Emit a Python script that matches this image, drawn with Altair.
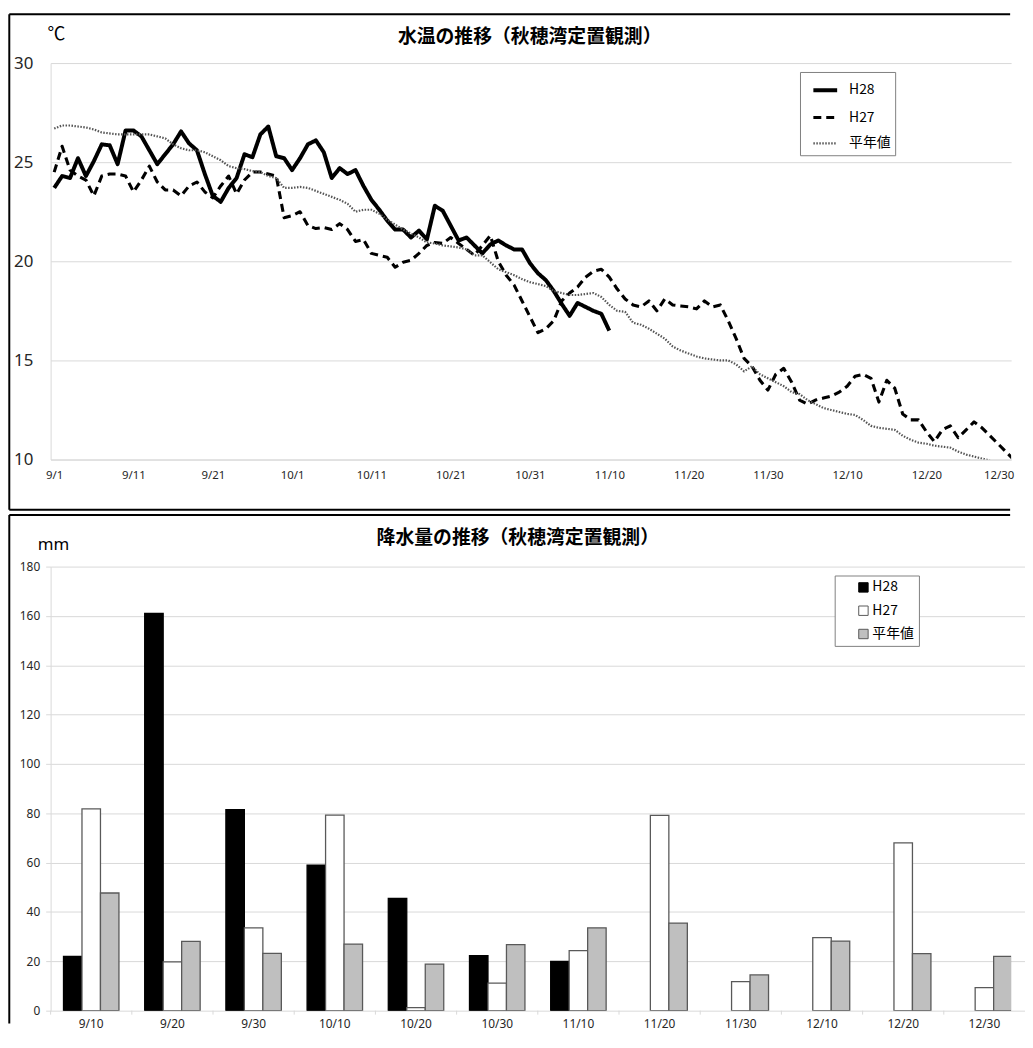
import altair as alt
import pandas as pd

# ---------------- data: water temperature (daily, starting 9/1) ----------------
h28_temp = [23.7, 24.3, 24.2, 25.2, 24.3, 25.05, 25.9, 25.85, 24.9, 26.6,
            26.6, 26.3, 25.6, 24.9, 25.4, 25.9, 26.55, 25.95, 25.6, 24.4,
            23.3, 23.0, 23.7, 24.2, 25.4, 25.25, 26.4, 26.8, 25.3, 25.2,
            24.6, 25.2, 25.9, 26.1, 25.5, 24.2, 24.7, 24.4, 24.6, 23.8,
            23.1, 22.6, 22.05, 21.6, 21.6, 21.2, 21.55, 21.1, 22.8, 22.55,
            21.8, 21.05, 21.2, 20.8, 20.4, 20.85, 21.05, 20.8, 20.6, 20.6,
            19.9, 19.4, 19.05, 18.5, 17.85, 17.25, 17.9, 17.7, 17.5, 17.35,
            16.5]
h27_temp = [24.5, 25.8, 24.6, 24.3, 24.1, 23.3, 24.3, 24.4, 24.4, 24.3,
            23.5, 24.1, 24.8, 24.0, 23.6, 23.6, 23.3, 23.8, 24.0, 23.5,
            23.2, 23.8, 24.3, 23.4, 24.1, 24.5, 24.5, 24.4, 24.3, 22.2,
            22.3, 22.5, 21.8, 21.65, 21.7, 21.6, 21.9, 21.6, 21.0, 21.1,
            20.4, 20.3, 20.2, 19.7, 19.95, 20.05, 20.4, 20.8, 20.95, 20.9,
            21.2, 20.9, 20.6, 20.3, 20.8, 21.3, 20.0, 19.3, 18.8, 18.0,
            17.2, 16.4, 16.6, 17.0, 18.0, 18.4, 18.7, 19.2, 19.5, 19.6,
            19.2, 18.6, 18.1, 17.8, 17.7, 18.0, 17.5, 18.1, 17.8, 17.75,
            17.7, 17.6, 18.0, 17.7, 17.8, 17.0, 16.1, 15.1, 14.7, 14.0,
            13.5, 14.3, 14.6, 13.9, 13.0, 12.8, 13.0, 13.1, 13.2, 13.4,
            13.7, 14.2, 14.3, 14.1, 12.9, 14.0, 13.6, 12.3, 12.0, 12.0,
            11.4, 10.9, 11.5, 11.7, 11.1, 11.5, 11.9, 11.6, 11.2, 10.8,
            10.4, 10.0]
avg_temp = [26.7, 26.85, 26.85, 26.8, 26.75, 26.65, 26.5, 26.45, 26.4, 26.4,
            26.4, 26.4, 26.4, 26.3, 26.2, 25.9, 25.7, 25.6, 25.6, 25.5,
            25.3, 25.1, 24.8, 24.7, 24.65, 24.55, 24.5, 24.3, 24.2, 23.7,
            23.7, 23.75, 23.7, 23.55, 23.4, 23.25, 23.1, 22.9, 22.5, 22.6,
            22.6, 22.4, 22.1, 21.85, 21.6, 21.4, 21.2, 20.95, 20.9, 20.8,
            20.75, 20.7, 20.6, 20.3, 20.3, 19.95, 19.6, 19.45, 19.3, 19.1,
            18.95, 18.85, 18.75, 18.5, 18.4, 18.3, 18.3, 18.35, 18.4, 18.2,
            17.8, 17.5, 17.45, 16.9, 16.8, 16.6, 16.35, 16.1, 15.7, 15.5,
            15.35, 15.2, 15.1, 15.05, 15.0, 15.0, 14.8, 14.45, 14.7, 14.3,
            14.1, 13.9, 13.7, 13.4, 13.3, 13.0, 12.8, 12.6, 12.5, 12.4,
            12.3, 12.25, 12.0, 11.7, 11.6, 11.55, 11.5, 11.2, 11.0, 10.85,
            10.8, 10.7, 10.65, 10.6, 10.4, 10.25, 10.15, 10.05, 9.95]
temp_tick_labels = ["9/1", "9/11", "9/21", "10/1", "10/11", "10/21", "10/31",
                    "11/10", "11/20", "11/30", "12/10", "12/20", "12/30"]
series_names = ["H28", "H27", "平年値"]

# ---------------- data: precipitation (10-day totals) ----------------
rain_periods = ["9/10", "9/20", "9/30", "10/10", "10/20", "10/30",
                "11/10", "11/20", "11/30", "12/10", "12/20", "12/30"]
rain_h28 = [22.0, 161.0, 81.5, 59.0, 45.5, 22.3, 20.0, None, None, None, None, None]
rain_h27 = [81.8, 19.8, 33.6, 79.3, 1.2, 11.2, 24.3, 79.2, 11.8, 29.6, 68.0, 9.3]
rain_avg = [47.7, 28.1, 23.2, 27.0, 18.9, 26.8, 33.6, 35.5, 14.5, 28.2, 23.1, 22.0]

JP = "Noto Sans CJK JP"
NUM = "Noto Sans"
GRID = "#d9d9d9"

temp_rows = []
for name, vals in zip(series_names, [h28_temp, h27_temp, avg_temp]):
    for i, v in enumerate(vals):
        temp_rows.append({"day": i, "temp": v, "series": name})
temp_df = pd.DataFrame(temp_rows)

rain_rows = []
for name, vals in zip(series_names, [rain_h28, rain_h27, rain_avg]):
    for p, v in zip(rain_periods, vals):
        if v is not None:
            rain_rows.append({"period": p, "rain": v, "kind": name})
rain_df = pd.DataFrame(rain_rows)
period_df = pd.DataFrame({"period": rain_periods})

one = pd.DataFrame({"k": [0]})


def rule(x, x2, y, y2):
    return alt.Chart(one).mark_rule(color="black", strokeWidth=2).encode(
        x=alt.value(x), x2=alt.value(x2), y=alt.value(y), y2=alt.value(y2))


def label(text, x, y, size, bold=False, font=JP):
    return alt.Chart(one).mark_text(
        text=text, fontSize=size, fontWeight="bold" if bold else "normal",
        font=font, align="center", baseline="middle", color="black"
    ).encode(x=alt.value(x), y=alt.value(y))


W1, H1 = 969, 400
W2, H2 = 969, 448
RANGE2 = 983          # full category span of the rainfall axis (runs past the page edge)
RIGHT = 968
LEFT = -41.7
PI, PO = 0.317, 0.1585
STEP2 = RANGE2 / len(rain_periods)
DAY_DOMAIN = [-0.45, -0.45 + W1 / 8.0]

label_expr = "[" + ",".join("'%s'" % s for s in temp_tick_labels) + "][round(datum.value / 10)]"
last_tick = "datum.value == 120"
legend_label = "datum.label + '\u3000'"   # a little room after the text, as in the original box

top_legend = alt.Legend(
    title=None, orient="none", legendX=756, legendY=9,
    strokeColor="#7f7f7f", fillColor="white", padding=4.5, symbolOffset=7,
    symbolType="stroke", symbolSize=576, rowPadding=5.5, labelOffset=10,
    labelExpr=legend_label,
    labelFont=JP, labelFontSize=14, labelColor="black")

lines = alt.Chart(temp_df).mark_line(clip=True, strokeJoin="round").encode(
    x=alt.X("day:Q",
            scale=alt.Scale(domain=DAY_DOMAIN, nice=False, zero=False),
            axis=alt.Axis(values=list(range(0, 121, 10)), labelExpr=label_expr,
                          grid=False, ticks=False, domainColor=GRID,
                          labelFont=NUM, labelFontSize=11.5, labelPadding=10,
                          labelAlign={"condition": {"test": last_tick, "value": "right"},
                                      "value": "center"},
                          labelOffset={"condition": {"test": last_tick, "value": 8},
                                       "value": 0},
                          labelColor="#262626", title=None)),
    y=alt.Y("temp:Q",
            scale=alt.Scale(domain=[10, 30], nice=False, zero=False),
            axis=alt.Axis(values=[10, 15, 20, 25, 30], grid=True, gridColor=GRID,
                          ticks=False, domainColor=GRID, labelFont=NUM,
                          labelFontSize=17, labelPadding=18, labelColor="#262626",
                          title=None)),
    color=alt.Color("series:N", scale=alt.Scale(domain=series_names,
                    range=["#000000", "#000000", "#555555"]), legend=top_legend),
    strokeDash=alt.StrokeDash("series:N", scale=alt.Scale(domain=series_names,
                              range=[[1, 0], [8, 5], [1.5, 1.5]]), legend=top_legend),
    strokeWidth=alt.StrokeWidth("series:O", scale=alt.Scale(domain=series_names,
                                range=[4, 2.2, 1.6]), legend=top_legend),
)

top = alt.layer(
    lines,
    rule(LEFT, RIGHT, -49.3, -49.3),
    rule(LEFT, LEFT, -49.3, 450.7),
    rule(LEFT, RIGHT, 450.7, 450.7),
    label("水温の推移（秋穂湾定置観測）", 483.3, -26.3, 19, bold=True),
    label("℃", 5.8, -28.3, 18),
).properties(width=W1, height=H1)

bot_legend = alt.Legend(
    title=None, orient="none", legendX=791, legendY=9,
    strokeColor="#7f7f7f", fillColor="white", padding=5, symbolOffset=17,
    symbolType="square", symbolSize=90, symbolStrokeWidth=1, rowPadding=9.5,
    labelOffset=2, labelExpr=legend_label,
    labelFont=JP, labelFontSize=14, labelColor="black")

x_axis2 = alt.Axis(ticks=False, domain=False, labelAngle=0, labelFont=NUM,
                   labelFontSize=12, labelPadding=8, labelColor="#262626",
                   title=None, grid=False)
x_scale2 = alt.Scale(paddingInner=PI, paddingOuter=PO, range=[0, RANGE2])

bars = alt.Chart(rain_df).mark_bar(strokeWidth=1.3, clip=True).encode(
    x=alt.X("period:N", sort=rain_periods, scale=x_scale2, axis=x_axis2),
    xOffset=alt.XOffset("kind:N", scale=alt.Scale(domain=series_names,
                        paddingInner=0, paddingOuter=0)),
    y=alt.Y("rain:Q", scale=alt.Scale(domain=[0, 180], nice=False),
            axis=alt.Axis(values=list(range(0, 181, 20)), grid=True, gridColor=GRID,
                          ticks=True, tickSize=5, tickColor=GRID, domainColor=GRID,
                          labelFont=NUM, labelFontSize=12, labelPadding=6,
                          labelColor="#262626", title=None)),
    fill=alt.Fill("kind:N", scale=alt.Scale(domain=series_names,
                  range=["#000000", "#ffffff", "#bfbfbf"]), legend=bot_legend),
    stroke=alt.Stroke("kind:N", scale=alt.Scale(domain=series_names,
                      range=["#000000", "#595959", "#595959"]), legend=bot_legend),
)

# small tick marks on the category boundaries (band start minus half the inner gap)
boundary_ticks = alt.Chart(period_df).mark_rule(
    color=GRID, strokeWidth=1, xOffset=-PO * STEP2
).encode(
    x=alt.X("period:N", sort=rain_periods, scale=x_scale2, axis=x_axis2,
            bandPosition=0),
    y=alt.value(H2), y2=alt.value(H2 + 4),
)

bottom = alt.layer(
    bars,
    boundary_ticks,
    rule(LEFT, RIGHT, -52, -52),
    rule(LEFT, LEFT, -52, H2 + 13),
    label("降水量の推移（秋穂湾定置観測）", 471.3, -29, 19, bold=True),
    label("mm", 2.8, -22, 17, font=NUM),
).properties(width=W2, height=H2)

chart = alt.vconcat(top, bottom, spacing=3).resolve_scale(
    color="independent", strokeDash="independent", strokeWidth="independent",
    fill="independent", stroke="independent"
).resolve_legend(
    color="independent", strokeDash="independent", strokeWidth="independent",
    fill="independent", stroke="independent"
).properties(
    padding={"left": 0, "top": 0, "right": 0, "bottom": 0}
).configure_view(stroke=None)

chart.save("out.html", embed_options={"renderer": "svg", "actions": False})
